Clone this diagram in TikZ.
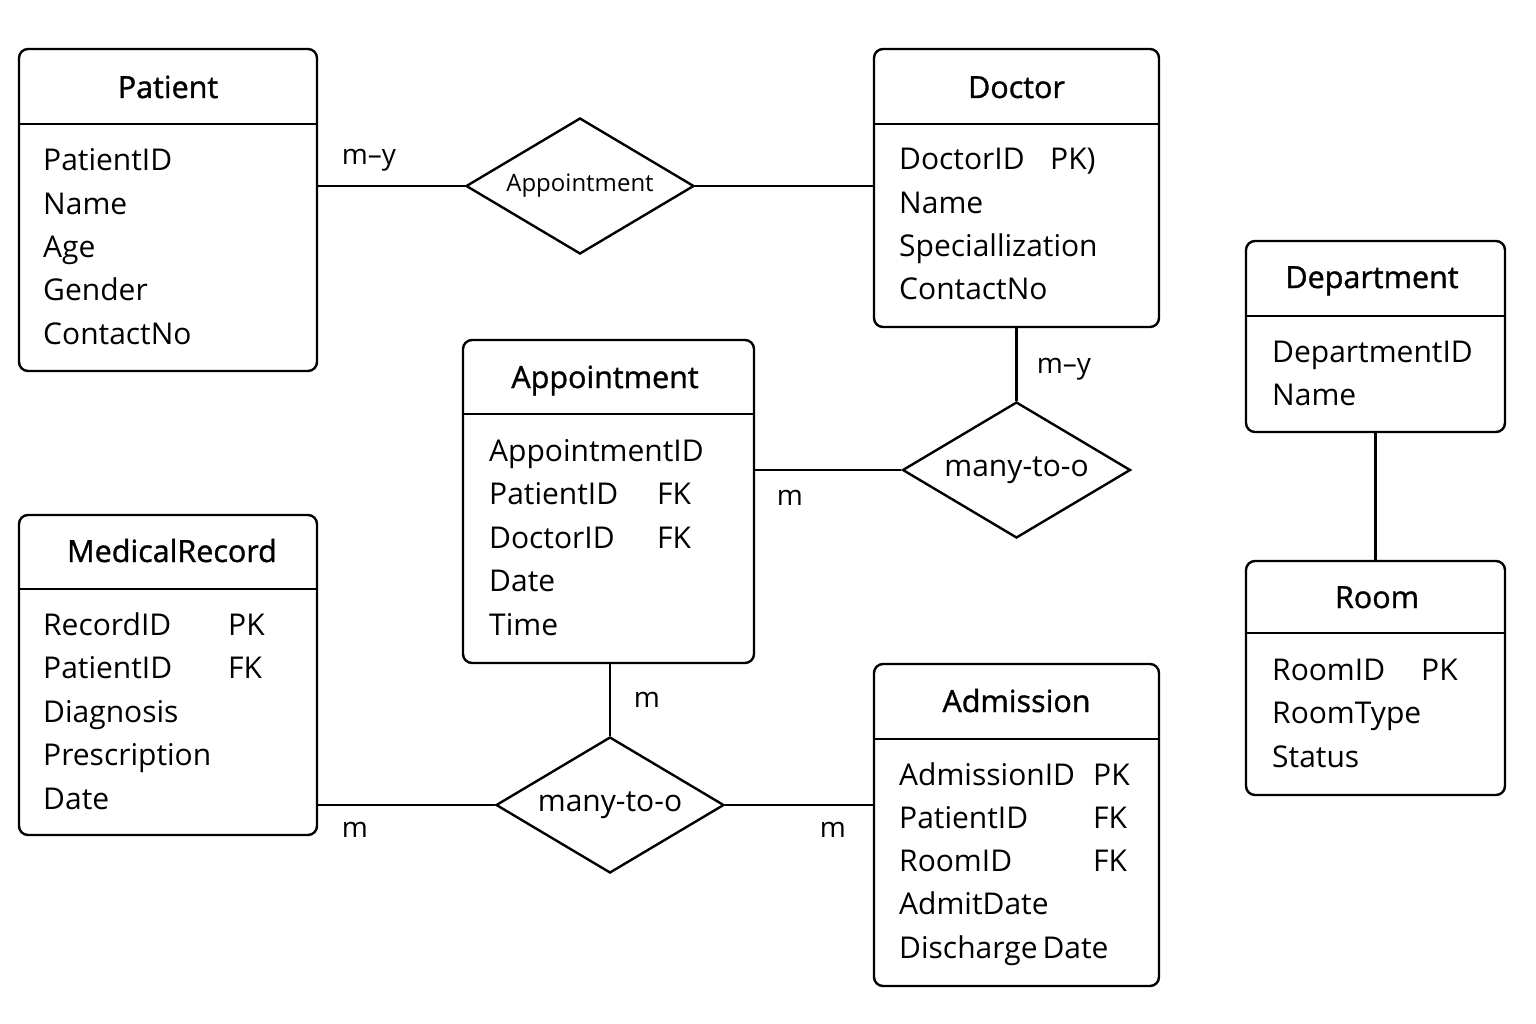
\documentclass[tikz,border=0pt]{standalone}
\usepackage{fontspec}
\setmainfont{Open Sans}
\newfontfamily\titlefont[FakeBold=1.2]{Open Sans}
\usetikzlibrary{shapes.geometric}

\tikzset{
  entity/.style={
    draw,
    line width=2.4pt,
    rounded corners=9pt,
    inner sep=0pt,
  },
  divider/.style={
    line width=2.2pt,
  },
  etitle/.style={
    anchor=base,
    inner sep=0pt,
    font=\titlefont\fontsize{30.5}{36}\selectfont,
  },
  attr/.style={
    anchor=base west,
    inner sep=0pt,
    font=\fontsize{30}{36}\selectfont,
  },
  rel/.style={
    diamond,
    draw,
    line width=2.4pt,
    aspect=1.68,
    minimum width=228pt,
    minimum height=136pt,
    inner sep=0pt,
    font=\fontsize{30}{36}\selectfont,
  },
  card/.style={
    inner sep=0pt,
    font=\fontsize{28}{34}\selectfont,
  },
  link/.style={
    line width=2.4pt,
  },
}

\begin{document}
\begin{tikzpicture}[x=1pt, y=-1pt]

  \useasboundingbox (0,0) rectangle (1536,1024);

  % entities
  \node[entity, minimum width=298pt, minimum height=322pt](patient) at (168,210) {};
  \node[entity, minimum width=285pt, minimum height=278pt](doctor) at (1016.5,188) {};
  \node[entity, minimum width=291pt, minimum height=323pt](appt) at (608.5,501.5) {};
  \node[entity, minimum width=259pt, minimum height=191pt](dept) at (1375.5,336.5) {};
  \node[entity, minimum width=259pt, minimum height=234pt](room) at (1375.5,678) {};
  \node[entity, minimum width=298pt, minimum height=320pt](medrec) at (168,675) {};
  \node[entity, minimum width=285pt, minimum height=322pt](admission) at (1016.5,825) {};

  \draw[divider] (patient.west |- 0,124) -- (patient.east |- 0,124);
  \draw[divider] (doctor.west |- 0,124) -- (doctor.east |- 0,124);
  \draw[divider] (appt.west |- 0,414) -- (appt.east |- 0,414);
  \draw[divider] (dept.west |- 0,316) -- (dept.east |- 0,316);
  \draw[divider] (room.west |- 0,633) -- (room.east |- 0,633);
  \draw[divider] (medrec.west |- 0,589) -- (medrec.east |- 0,589);
  \draw[divider] (admission.west |- 0,739) -- (admission.east |- 0,739);

  \node[etitle](patient-t) at (168,98) {Patient};
  \node[etitle](doctor-t) at (1016.5,98) {Doctor};
  \node[etitle](appt-t) at (605,388) {Appointment};
  \node[etitle](dept-t) at (1372,288) {Department};
  \node[etitle](room-t) at (1377,608) {Room};
  \node[etitle](medrec-t) at (172,562) {MedicalRecord};
  \node[etitle](admission-t) at (1016.5,712) {Admission};

  % attributes
  \foreach \t [count=\i from 0] in {PatientID,Name,Age,Gender,ContactNo}
    \node[attr](patient-a\i) at (43,171+43.3*\i) {\t};
  \foreach \t [count=\i from 0] in {DoctorID,Name,Speciallization,ContactNo}
    \node[attr](doctor-a\i) at (899,170+43.3*\i) {\t};
  \foreach \t [count=\i from 0] in {AppointmentID,PatientID,DoctorID,Date,Time}
    \node[attr](appt-a\i) at (489,461+43.5*\i) {\t};
  \foreach \t [count=\i from 0] in {DepartmentID,Name}
    \node[attr](dept-a\i) at (1272,362+43.5*\i) {\t};
  \foreach \t [count=\i from 0] in {RoomID,RoomType,Status}
    \node[attr](room-a\i) at (1272,680+43.8*\i) {\t};
  \foreach \t [count=\i from 0] in {RecordID,PatientID,Diagnosis,Prescription,Date}
    \node[attr](medrec-a\i) at (43,635+43.5*\i) {\t};
  \foreach \t [count=\i from 0] in {AdmissionID,PatientID,RoomID,AdmitDate,Discharge\,Date}
    \node[attr](admission-a\i) at (899,785+43.3*\i) {\t};

  % keys
  \node[attr](doctor-k0) at (1050,170) {PK)};
  \node[attr](appt-k1) at (657,504.5) {FK};
  \node[attr](appt-k2) at (657,548) {FK};
  \node[attr](room-k0) at (1421,680) {PK};
  \node[attr](medrec-k0) at (228,635) {PK};
  \node[attr](medrec-k1) at (228,678.5) {FK};
  \node[attr](admission-k0) at (1093,785) {PK};
  \node[attr](admission-k1) at (1093,828.3) {FK};
  \node[attr](admission-k2) at (1093,871.6) {FK};

  % relationships
  \node[rel, font=\fontsize{24}{28}\selectfont](appt-rel) at (580,186) {Appointment};
  \node[rel](doc-rel) at (1016.5,470) {many-to-o};
  \node[rel](adm-rel) at (610,805) {many-to-o};

  \draw[link] (patient.east |- appt-rel.west) -- (appt-rel.west);
  \draw[link] (appt-rel.east) -- (doctor.west |- appt-rel.east);
  \draw[link] (doctor.south) -- (doc-rel.north);
  \draw[link] (appt.east |- doc-rel.west) -- (doc-rel.west);
  \draw[link] (appt.south -| adm-rel.north) -- (adm-rel.north);
  \draw[link] (medrec.east |- adm-rel.west) -- (adm-rel.west);
  \draw[link] (adm-rel.east) -- (admission.west |- adm-rel.east);
  \draw[link] (dept.south) -- (room.north);

  % cardinalities
  \node[card](c1) at (369,160) {m–y};
  \node[card](c2) at (1064,369) {m–y};
  \node[card](c3) at (790,498) {m};
  \node[card](c4) at (647,700) {m};
  \node[card](c5) at (355,830) {m};
  \node[card](c6) at (833,830) {m};

\end{tikzpicture}
\end{document}
